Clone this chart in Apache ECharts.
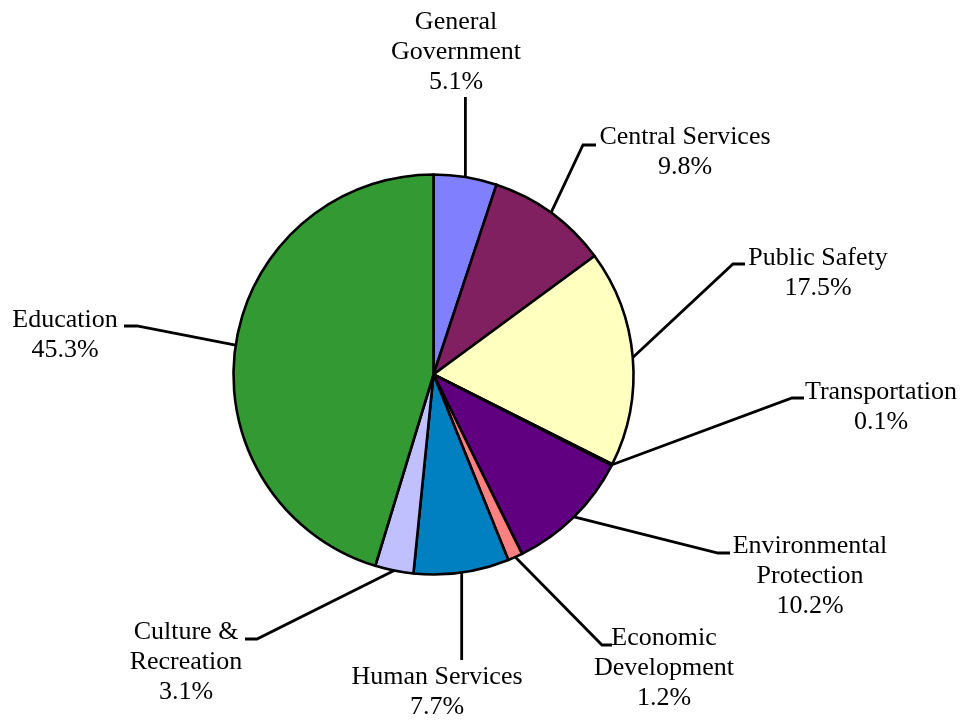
<!DOCTYPE html>
<html>
<head>
<meta charset="utf-8">
<script src="https://cdn.jsdelivr.net/npm/echarts@6/dist/echarts.min.js"></script>
<style>html,body{margin:0;padding:0;background:#fff;}#chart{width:970px;height:721px;}</style>
</head>
<body>
<div id="chart"></div>
<script>
// ---- data ----
var categories = ["General\nGovernment", "Central Services", "Public Safety", "Transportation",
  "Environmental\nProtection", "Economic\nDevelopment", "Human Services", "Culture &\nRecreation", "Education"];
var values = [5.1, 9.8, 17.5, 0.1, 10.2, 1.2, 7.7, 3.1, 45.3];

// ---- styles / label placement (not data) ----
var colors = ["#8080FF", "#802060", "#FFFFC0", "#A0E0E0", "#600080", "#FF8080", "#0080C0", "#C0C0FF", "#339933"];
// [text centre x, text top y, elbow x (null = straight), elbow y, stub end x]
var labelPlacement = [
  [456, 7, null, 97, null],
  [685, 122, 583, 145, 596],
  [818, 243, 733, 264, 745],
  [881, 377, 792, 398, 804],
  [810, 531, 718, 553, 730],
  [664, 623, 602, 645, 612],
  [437, 662, null, 660, null],
  [186, 617, 257, 639, 245],
  [65, 305, 137, 326, 124]
];
var CX = 433.5, CY = 374.5, R = 200;

var data = categories.map(function (c, i) {
  return { name: c, value: values[i], itemStyle: { color: colors[i] } };
});

var chart = echarts.init(document.getElementById('chart'), null, { renderer: 'canvas' });
chart.setOption({
  backgroundColor: '#fff',
  animation: false,
  series: [{
    type: 'pie',
    center: [CX, CY],
    radius: [0, R],
    startAngle: 90,
    clockwise: true,
    minAngle: 0,
    avoidLabelOverlap: false,
    data: data,
    itemStyle: { borderColor: '#000', borderWidth: 2.6 },
    label: {
      show: true,
      formatter: function (p) { return p.name + '\n' + p.value.toFixed(1) + '%'; },
      fontFamily: '"Liberation Serif", "Times New Roman", serif',
      fontSize: 26,
      lineHeight: 30,
      color: '#000',
      align: 'center'
    },
    labelLine: { show: true, length: 20, length2: 10, lineStyle: { color: '#000', width: 2.8 } },
    emphasis: { disabled: true },
    labelLayout: function (params) {
      var lp = labelPlacement[params.dataIndex];
      var start;
      if (params.labelLinePoints && params.labelLinePoints[0]) {
        start = params.labelLinePoints[0];
      } else {
        var cum = 0;
        for (var k = 0; k < params.dataIndex; k++) cum += values[k];
        var total = values.reduce(function (a, b) { return a + b; }, 0);
        var ang = (cum + values[params.dataIndex] / 2) / total * 2 * Math.PI;
        start = [CX + R * Math.sin(ang), CY - R * Math.cos(ang)];
      }
      var pts;
      if (lp[2] === null) {
        pts = [[start[0], start[1]], [start[0], lp[3]], [start[0], lp[3]]];
      } else {
        pts = [[start[0], start[1]], [lp[2], lp[3]], [lp[4], lp[3]]];
      }
      return {
        x: lp[0], y: lp[1], align: 'center', verticalAlign: 'top',
        labelLinePoints: pts
      };
    }
  }]
});
</script>
</body>
</html>
